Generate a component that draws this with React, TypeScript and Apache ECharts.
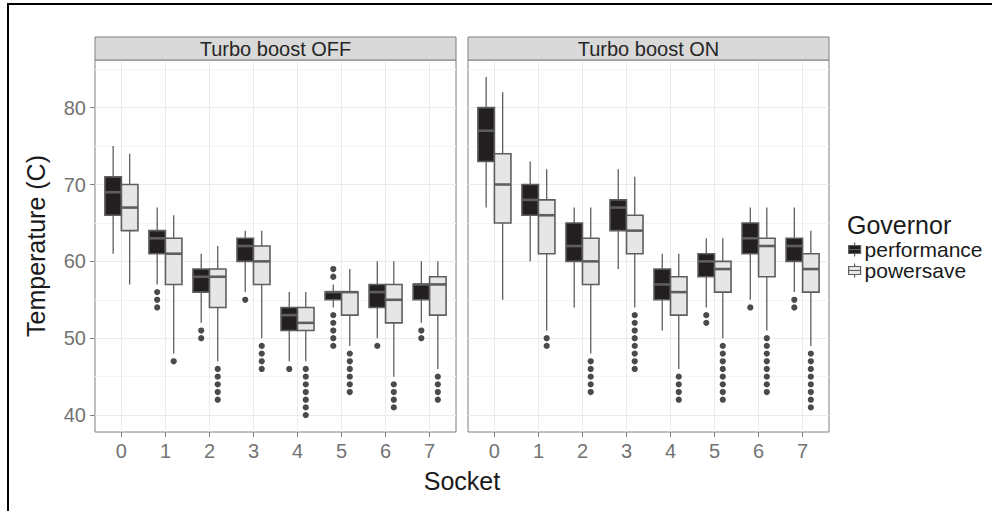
import React, { useEffect, useRef } from "react";
import * as echarts from "echarts";

// ---------------- data ----------------
const SOCKETS = ["0", "1", "2", "3", "4", "5", "6", "7"];
const PANELS = ["Turbo boost OFF", "Turbo boost ON"];
const GOVERNORS = ["performance", "powersave"];
const Y_TICKS = [40, 50, 60, 70, 80];
const Y_MINOR = [45, 55, 65, 75, 85];

// [lower whisker, Q1, median, Q3, upper whisker] per socket
const OFF_PERFORMANCE = [
  [61, 66, 69, 71, 75],
  [57, 61, 63, 64, 67],
  [52, 56, 58, 59, 61],
  [56, 60, 62, 63, 64],
  [47, 51, 53, 54, 56],
  [54, 55, 56, 56, 57],
  [50, 54, 56, 57, 60],
  [52, 55, 57, 57, 60],
];
const OFF_POWERSAVE = [
  [57, 64, 67, 70, 74],
  [48, 57, 61, 63, 66],
  [47, 54, 58, 59, 62],
  [50, 57, 60, 62, 64],
  [47, 51, 52, 54, 56],
  [49, 53, 56, 56, 59],
  [45, 52, 55, 57, 60],
  [46, 53, 57, 58, 60],
];
const ON_PERFORMANCE = [
  [67, 73, 77, 80, 84],
  [60, 66, 68, 70, 73],
  [54, 60, 62, 65, 67],
  [59, 64, 67, 68, 72],
  [51, 55, 57, 59, 61],
  [54, 58, 60, 61, 63],
  [55, 61, 63, 65, 67],
  [56, 60, 62, 63, 67],
];
const ON_POWERSAVE = [
  [55, 65, 70, 74, 82],
  [51, 61, 66, 68, 72],
  [48, 57, 60, 63, 67],
  [54, 61, 64, 66, 71],
  [46, 53, 56, 58, 61],
  [50, 56, 59, 60, 63],
  [51, 58, 62, 63, 67],
  [49, 56, 59, 61, 64],
];

// outliers per socket
const OFF_PERFORMANCE_OUT = [[], [56, 55, 54], [51, 50], [55], [46], [59, 58, 53, 52, 51, 50, 49], [49], [51, 50]];
const OFF_POWERSAVE_OUT = [[], [47], [46, 45, 44, 43, 42], [49, 48, 47, 46], [46, 45, 44, 43, 42, 41, 40], [48, 47, 46, 45, 44, 43], [44, 43, 42, 41], [45, 44, 43, 42]];
const ON_PERFORMANCE_OUT = [[], [], [], [], [], [53, 52], [54], [55, 54]];
const ON_POWERSAVE_OUT = [[], [50, 49], [47, 46, 45, 44, 43], [53, 52, 51, 50, 49, 48, 47, 46], [45, 44, 43, 42], [49, 48, 47, 46, 45, 44, 43, 42], [50, 49, 48, 47, 46, 45, 44, 43], [48, 47, 46, 45, 44, 43, 42, 41]];

// ---------------- styling / layout ----------------
const FONT = "'Liberation Sans', Arial, Helvetica, sans-serif";
const LABEL_SIZE = 20;
const LEGEND_SIZE = 21;
const TITLE_SIZE = 25;
const Y_MIN = 37.8;
const Y_MAX = 86.2;
const PANEL_LEFTS = [95, 468];
const PANEL_W = 361;
const PANEL_TOP = 60;
const PANEL_H = 372;
const STRIP_H = 23;
const UNIT = PANEL_W / 8.2; // px per category
const BOX_HALF = 0.1875; // half box width in category units
const DODGE = [-0.1875, 0.1875];
const FILLS = ["#231f20", "#e6e6e6"];
const EDGE = "#5e5e5e";
const BORDER = "#7f7f7f";
const GRID_MAJOR = "#ebebeb";
const GRID_MINOR = "#f5f5f5";
const TICK_TEXT = "#737373";
const TITLE_TEXT = "#1a1a1a";

function boxRenderer(dodge: number, fill: string) {
  return (_params: any, api: any) => {
    const cat = api.value(0);
    const unit = api.size([1, 0])[0];
    const cx = api.coord([cat, api.value(3)])[0] + dodge * unit;
    const hw = BOX_HALF * unit;
    const yLo = api.coord([cat, api.value(1)])[1];
    const yQ1 = api.coord([cat, api.value(2)])[1];
    const yMed = api.coord([cat, api.value(3)])[1];
    const yQ3 = api.coord([cat, api.value(4)])[1];
    const yHi = api.coord([cat, api.value(5)])[1];
    const wStyle = { stroke: EDGE, lineWidth: 1.3 };
    return {
      type: "group",
      children: [
        { type: "line", shape: { x1: cx, y1: yQ3, x2: cx, y2: yHi }, style: wStyle },
        { type: "line", shape: { x1: cx, y1: yQ1, x2: cx, y2: yLo }, style: wStyle },
        {
          type: "rect",
          shape: { x: cx - hw, y: yQ3, width: 2 * hw, height: yQ1 - yQ3 },
          style: { fill, stroke: EDGE, lineWidth: 1.6 },
        },
        {
          type: "line",
          shape: { x1: cx - hw, y1: yMed, x2: cx + hw, y2: yMed },
          style: { stroke: EDGE, lineWidth: 2.6 },
        },
      ],
    };
  };
}

function outlierRenderer(dodge: number) {
  return (_params: any, api: any) => {
    const unit = api.size([1, 0])[0];
    const p = api.coord([api.value(0), api.value(1)]);
    return {
      type: "circle",
      shape: { cx: p[0] + dodge * unit, cy: p[1], r: 3.1 },
      style: { fill: "#4a4a4a" },
    };
  };
}

const BOXES = [
  [OFF_PERFORMANCE, OFF_POWERSAVE],
  [ON_PERFORMANCE, ON_POWERSAVE],
];
const OUTS = [
  [OFF_PERFORMANCE_OUT, OFF_POWERSAVE_OUT],
  [ON_PERFORMANCE_OUT, ON_POWERSAVE_OUT],
];

function buildOption() {
  const grid: any[] = [];
  const xAxis: any[] = [];
  const yAxis: any[] = [];
  const series: any[] = [];
  const graphic: any[] = [];

  PANELS.forEach((title, p) => {
    const left = PANEL_LEFTS[p];
    grid.push({
      left,
      top: PANEL_TOP,
      width: PANEL_W,
      height: PANEL_H,
      show: true,
      backgroundColor: "transparent",
      borderColor: BORDER,
      borderWidth: 1,
      z: 0,
    });
    grid.push({
      left: left + 0.6 * UNIT,
      top: PANEL_TOP,
      width: 7 * UNIT,
      height: PANEL_H,
    });
    const bgGrid = p * 2;
    const dataGrid = p * 2 + 1;

    xAxis.push({ type: "value", gridIndex: bgGrid, min: 0, max: 1, show: false });
    const dataX = xAxis.length;
    xAxis.push({
      type: "category",
      gridIndex: dataGrid,
      data: SOCKETS,
      boundaryGap: false,
      axisLine: { show: false },
      axisTick: { show: true, length: 5, lineStyle: { color: BORDER, width: 1 } },
      axisLabel: { show: true, color: TICK_TEXT, fontSize: LABEL_SIZE, fontFamily: FONT, margin: 9, interval: 0 },
      splitLine: { show: true, interval: 0, lineStyle: { color: GRID_MAJOR, width: 1 } },
    });

    yAxis.push({
      type: "value",
      gridIndex: bgGrid,
      min: Y_MIN,
      max: Y_MAX,
      axisLine: { show: false },
      axisTick: {
        show: p === 0,
        customValues: Y_TICKS,
        length: 5,
        lineStyle: { color: BORDER, width: 1 },
      },
      axisLabel: {
        show: p === 0,
        customValues: Y_TICKS,
        color: TICK_TEXT,
        fontSize: LABEL_SIZE,
        fontFamily: FONT,
        margin: 9,
      },
      splitLine: { show: true, lineStyle: { color: GRID_MAJOR, width: 1 } },
      z: 1,
    });
    yAxis.push({
      type: "value",
      gridIndex: bgGrid,
      min: Y_MIN,
      max: Y_MAX,
      axisLine: { show: false },
      axisTick: { show: false, customValues: Y_MINOR },
      axisLabel: { show: false },
      splitLine: { show: true, lineStyle: { color: GRID_MINOR, width: 1 } },
      z: 0,
    });
    const dataY = yAxis.length;
    yAxis.push({ type: "value", gridIndex: dataGrid, min: Y_MIN, max: Y_MAX, show: false });

    GOVERNORS.forEach((gov, g) => {
      const boxData = BOXES[p][g].map((b, i) => [i, ...b]);
      const outData: number[][] = [];
      OUTS[p][g].forEach((vals, i) => vals.forEach((v) => outData.push([i, v])));
      series.push({
        type: "custom",
        name: gov,
        xAxisIndex: dataX,
        yAxisIndex: dataY,
        data: boxData,
        encode: { x: 0, y: [1, 2, 3, 4, 5] },
        renderItem: boxRenderer(DODGE[g], FILLS[g]),
        z: 3,
      });
      series.push({
        type: "custom",
        name: gov,
        xAxisIndex: dataX,
        yAxisIndex: dataY,
        data: outData,
        encode: { x: 0, y: 1 },
        renderItem: outlierRenderer(DODGE[g]),
        z: 4,
      });
    });

    graphic.push({
      type: "rect",
      shape: { x: left, y: PANEL_TOP - STRIP_H, width: PANEL_W, height: STRIP_H },
      style: { fill: "#d9d9d9", stroke: BORDER, lineWidth: 1 },
      z: 10,
    });
    graphic.push({
      type: "text",
      x: left + PANEL_W / 2,
      y: PANEL_TOP - STRIP_H / 2,
      style: {
        text: title,
        fontSize: LABEL_SIZE,
        fontFamily: FONT,
        fill: "#262626",
        align: "center",
        verticalAlign: "middle",
      },
      z: 11,
    });
  });

  graphic.push({
    type: "text",
    x: (PANEL_LEFTS[0] + PANEL_LEFTS[1] + PANEL_W) / 2,
    y: 481,
    style: { text: "Socket", fontSize: TITLE_SIZE, fontFamily: FONT, fill: TITLE_TEXT, align: "center", verticalAlign: "middle" },
  });
  graphic.push({
    type: "text",
    x: 36,
    y: PANEL_TOP + PANEL_H / 2,
    rotation: Math.PI / 2,
    style: {
      text: "Temperature (C)",
      fontSize: TITLE_SIZE,
      fontFamily: FONT,
      fill: TITLE_TEXT,
      align: "center",
      verticalAlign: "middle",
    },
  });
  graphic.push({
    type: "text",
    x: 847,
    y: 225,
    style: { text: "Governor", fontSize: TITLE_SIZE, fontFamily: FONT, fill: TITLE_TEXT, align: "left", verticalAlign: "middle" },
  });
  graphic.push({ type: "rect", shape: { x: 7, y: 3, width: 985, height: 2 }, style: { fill: "#000" } });
  graphic.push({ type: "rect", shape: { x: 7, y: 3, width: 2, height: 508 }, style: { fill: "#000" } });

  const legendIcon = "path://M7,0L7,3M1,3L13,3L13,11L1,11ZM1,7L13,7M7,11L7,14";

  return {
    animation: false,
    backgroundColor: "#ffffff",
    grid,
    xAxis,
    yAxis,
    series,
    graphic,
    legend: {
      orient: "vertical",
      left: 848,
      top: 239,
      padding: 0,
      itemWidth: 14,
      itemHeight: 14,
      itemGap: 0,
      selectedMode: false,
      textStyle: { fontSize: LEGEND_SIZE, lineHeight: 20, fontFamily: FONT, color: TITLE_TEXT, padding: [0, 0, 0, -2] },
      data: GOVERNORS.map((name, g) => ({
        name,
        icon: legendIcon,
        itemStyle: { color: FILLS[g], borderColor: EDGE, borderWidth: 1.2 },
      })),
    },
  };
}

export default function App() {
  const ref = useRef<HTMLDivElement>(null);
  useEffect(() => {
    if (!ref.current) return;
    const chart = echarts.init(ref.current, undefined, { renderer: "svg" });
    chart.setOption(buildOption() as any);
    return () => chart.dispose();
  }, []);
  return (
    <div
      ref={ref}
      style={{ position: "absolute", left: 0, top: 0, width: 992, height: 511, background: "#fff" }}
    />
  );
}
